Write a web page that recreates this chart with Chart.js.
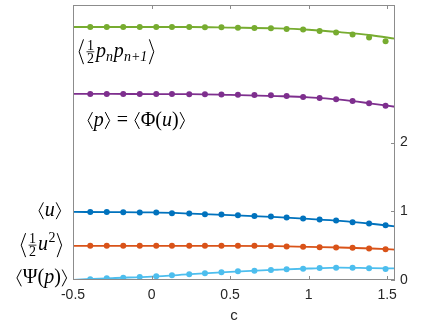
<!DOCTYPE html>
<html>
<head>
<meta charset="utf-8">
<script src="https://cdn.jsdelivr.net/npm/chart.js@4.4.0/dist/chart.umd.min.js"></script>
<style>
  html, body { margin: 0; padding: 0; background: #fff; }
</style>
</head>
<body>
<canvas id="chart" width="436" height="327"></canvas>
<script>
// sampled points (markers)
const C_PTS = [-0.39, -0.285, -0.18, -0.075, 0.03, 0.13, 0.24, 0.34, 0.445, 0.55, 0.655, 0.76, 0.86, 0.965, 1.07, 1.175, 1.28, 1.385, 1.49];
const PNP_PTS  = [3.68, 3.68, 3.68, 3.68, 3.68, 3.68, 3.68, 3.678, 3.675, 3.67, 3.667, 3.662, 3.652, 3.642, 3.623, 3.6, 3.57, 3.526, 3.474];
const P_PTS    = [2.706, 2.706, 2.706, 2.706, 2.705, 2.704, 2.703, 2.701, 2.699, 2.696, 2.691, 2.686, 2.677, 2.662, 2.648, 2.628, 2.604, 2.57, 2.536];
const U_PTS    = [0.99, 0.99, 0.986, 0.981, 0.981, 0.971, 0.967, 0.957, 0.952, 0.942, 0.932, 0.923, 0.909, 0.894, 0.88, 0.865, 0.841, 0.822, 0.797];
const U2_PTS   = [0.497, 0.497, 0.497, 0.497, 0.497, 0.497, 0.497, 0.497, 0.497, 0.497, 0.497, 0.493, 0.488, 0.483, 0.478, 0.474, 0.468, 0.459, 0.449];
const PSI_PTS  = [0.01, 0.025, 0.034, 0.043, 0.053, 0.068, 0.082, 0.097, 0.111, 0.126, 0.135, 0.145, 0.155, 0.164, 0.174, 0.179, 0.179, 0.17, 0.159];

// theory curves
const C_LINE = [-0.5, -0.25, 0, 0.25, 0.5, 0.8, 1.0, 1.2, 1.4, 1.55];
const PNP_LINE = [3.68, 3.68, 3.68, 3.68, 3.672, 3.66, 3.64, 3.605, 3.56, 3.51];
const P_LINE   = [2.706, 2.706, 2.705, 2.705, 2.694, 2.675, 2.657, 2.623, 2.567, 2.52];
const U_LINE   = [0.99, 0.988, 0.983, 0.966, 0.945, 0.915, 0.889, 0.86, 0.818, 0.78];
const U2_LINE  = [0.497, 0.497, 0.497, 0.497, 0.497, 0.492, 0.482, 0.473, 0.458, 0.443];
const PSI_LINE = [0.003, 0.028, 0.05, 0.084, 0.118, 0.149, 0.167, 0.179, 0.172, 0.168];

const X_TICKS = [-0.5, 0, 0.5, 1, 1.5];
const Y_TICKS = [0, 1, 2];

const SERIES = [
  { pts: PNP_PTS, line: PNP_LINE, color: '#77ac30' },
  { pts: P_PTS,   line: P_LINE,   color: '#7e2f8e' },
  { pts: U_PTS,   line: U_LINE,   color: '#0072bd' },
  { pts: U2_PTS,  line: U2_LINE,  color: '#d95319' },
  { pts: PSI_PTS, line: PSI_LINE, color: '#4dbeee' },
];

const AXIS = '#8c8c8c';
const TXT = '#262626';
const SANS = '"Liberation Sans", Arial, Helvetica, sans-serif';
const SERIF = '"Liberation Serif", "Times New Roman", serif';

const datasets = [];
SERIES.forEach(s => {
  datasets.push({
    data: C_LINE.map((c, i) => ({ x: c, y: s.line[i] })),
    showLine: true, pointRadius: 0, borderColor: s.color, borderWidth: 1.8,
    cubicInterpolationMode: 'monotone', fill: false
  });
});
SERIES.forEach(s => {
  datasets.push({
    data: C_PTS.map((c, i) => ({ x: c, y: s.pts[i] })),
    showLine: false, pointRadius: 3, pointBackgroundColor: s.color, pointBorderWidth: 0,
    borderColor: s.color
  });
});

// --- little latex-ish text renderer ---
const fnt = (size, it) => (it ? 'italic ' : '') + size + 'px ' + SERIF;

function tokWidth(ctx, t, s) {
  if (t.k === 'lb' || t.k === 'rb') return 0.36 * s;
  if (t.k === 'frac') {
    ctx.font = fnt(s * 0.7);
    return Math.max(ctx.measureText(t.n).width, ctx.measureText(t.d).width) + 0.2 * s;
  }
  if (t.k === 'sup' || t.k === 'sub') {
    ctx.font = fnt(s * 0.7, t.it);
    return ctx.measureText(t.t).width + 0.04 * s;
  }
  ctx.font = fnt(s, t.it);
  return ctx.measureText(t.t).width + (t.sp || 0) * s;
}

function drawMath(ctx, toks, x, axisY, s, align) {
  const total = toks.reduce((a, t) => a + tokWidth(ctx, t, s), 0);
  let cx = align === 'right' ? x - total : x;
  const base = axisY + 0.25 * s;
  ctx.fillStyle = '#000'; ctx.strokeStyle = '#000';
  ctx.textBaseline = 'alphabetic'; ctx.textAlign = 'left';
  toks.forEach(t => {
    const w = tokWidth(ctx, t, s);
    if (t.k === 'lb' || t.k === 'rb') {
      const h = (t.h || 0.42) * s;
      ctx.lineWidth = 1;
      ctx.beginPath();
      if (t.k === 'lb') {
        ctx.moveTo(cx + 0.29 * s, axisY - h); ctx.lineTo(cx + 0.07 * s, axisY); ctx.lineTo(cx + 0.29 * s, axisY + h);
      } else {
        ctx.moveTo(cx + 0.07 * s, axisY - h); ctx.lineTo(cx + 0.29 * s, axisY); ctx.lineTo(cx + 0.07 * s, axisY + h);
      }
      ctx.stroke();
    } else if (t.k === 'frac') {
      ctx.font = fnt(s * 0.7);
      const mid = cx + w / 2;
      ctx.textAlign = 'center';
      ctx.fillText(t.n, mid, axisY - 0.1 * s);
      ctx.fillText(t.d, mid, axisY + 0.55 * s);
      ctx.textAlign = 'left';
      ctx.lineWidth = 0.8;
      ctx.beginPath(); ctx.moveTo(cx + 0.08 * s, axisY); ctx.lineTo(cx + w - 0.08 * s, axisY); ctx.stroke();
    } else if (t.k === 'sup') {
      ctx.font = fnt(s * 0.7, t.it);
      ctx.fillText(t.t, cx + 0.02 * s, base - 0.42 * s);
    } else if (t.k === 'sub') {
      ctx.font = fnt(s * 0.7, t.it);
      ctx.fillText(t.t, cx + 0.01 * s, base + 0.2 * s);
    } else {
      ctx.font = fnt(s, t.it);
      ctx.fillText(t.t, cx + (t.sp || 0) * s / 2, base);
    }
    cx += w;
  });
}

const LB = h => ({ k: 'lb', h }), RB = h => ({ k: 'rb', h });
const LABELS = [
  { toks: [LB(0.62), { k: 'frac', n: '1', d: '2' }, { t: 'p', it: true }, { k: 'sub', t: 'n', it: true },
           { t: 'p', it: true }, { k: 'sub', t: 'n+1', it: true }, RB(0.62)], at: { x: -0.47, y: 3.32 }, align: 'left' },
  { toks: [LB(), { t: 'p', it: true }, RB(), { t: '=', sp: 0.56 }, LB(), { t: 'Φ' }, { t: '(' }, { t: 'u', it: true }, { t: ')' }, RB()],
    at: { x: -0.413, y: 2.32 }, align: 'left' },
  { toks: [LB(), { t: 'u', it: true }, RB()], at: { y: 1.007 }, dx: -11, align: 'right' },
  { toks: [LB(0.6), { k: 'frac', n: '1', d: '2' }, { t: 'u', it: true }, { k: 'sup', t: '2' }, RB(0.6)], at: { y: 0.507 }, dx: -10, align: 'right' },
  { toks: [LB(), { t: 'Ψ' }, { t: '(' }, { t: 'p', it: true }, { t: ')' }, RB()], at: { y: 0.03 }, dx: -5, align: 'right' },
];

const decor = {
  id: 'decor',
  afterDatasetsDraw(chart) {
    const { ctx, chartArea: a, scales: { x, y } } = chart;
    ctx.save();
    ctx.strokeStyle = AXIS; ctx.lineWidth = 1;
    ctx.strokeRect(Math.round(a.left) + 0.5, Math.round(a.top) + 0.5, Math.round(a.right - a.left) - 1, Math.round(a.bottom - a.top) - 1);
    ctx.beginPath();
    X_TICKS.forEach(v => {
      const px = Math.round(x.getPixelForValue(v)) + 0.5;
      ctx.moveTo(px, a.bottom); ctx.lineTo(px, a.bottom - 4);
      ctx.moveTo(px, a.top); ctx.lineTo(px, a.top + 4);
    });
    Y_TICKS.forEach(v => {
      const py = Math.round(y.getPixelForValue(v)) + 0.5;
      ctx.moveTo(a.right, py); ctx.lineTo(a.right - 4, py);
    });
    ctx.stroke();
    ctx.restore();
  },
  afterDraw(chart) {
    const { ctx, chartArea: a, scales: { x, y } } = chart;
    ctx.save();
    LABELS.forEach(l => {
      const py = y.getPixelForValue(l.at.y);
      const px = l.align === 'right' ? a.left + l.dx : x.getPixelForValue(l.at.x);
      drawMath(ctx, l.toks, px, py, 20, l.align);
    });
    ctx.restore();
  }
};

new Chart(document.getElementById('chart'), {
  type: 'scatter',
  data: { datasets },
  options: {
    responsive: false,
    animation: false,
    devicePixelRatio: 1,
    layout: { padding: { left: 73, top: 5, right: 0, bottom: 0 } },
    plugins: { legend: { display: false }, tooltip: { enabled: false } },
    scales: {
      x: {
        type: 'linear', min: -0.5, max: 1.55,
        afterBuildTicks: s => { s.ticks = X_TICKS.map(v => ({ value: v })); },
        afterFit: s => { s.height = 47; s.paddingLeft = 0; s.paddingRight = 0; },
        grid: { display: false, drawTicks: false },
        border: { display: false },
        ticks: { padding: 7, maxRotation: 0, font: { family: SANS, size: 14 }, color: TXT, callback: v => String(v) },
        title: { display: true, text: 'c', color: TXT, font: { family: SANS, size: 15 }, padding: { top: 0, bottom: 2 } }
      },
      y: {
        type: 'linear', position: 'right', min: 0, max: 4,
        afterBuildTicks: s => { s.ticks = Y_TICKS.map(v => ({ value: v })); },
        afterFit: s => { s.width = 41; s.paddingTop = 0; s.paddingBottom = 0; },
        grid: { display: false, drawTicks: false },
        border: { display: false },
        ticks: { padding: 5, font: { family: SANS, size: 14 }, color: TXT, callback: v => String(v) }
      }
    }
  },
  plugins: [decor]
});
</script>
</body>
</html>
